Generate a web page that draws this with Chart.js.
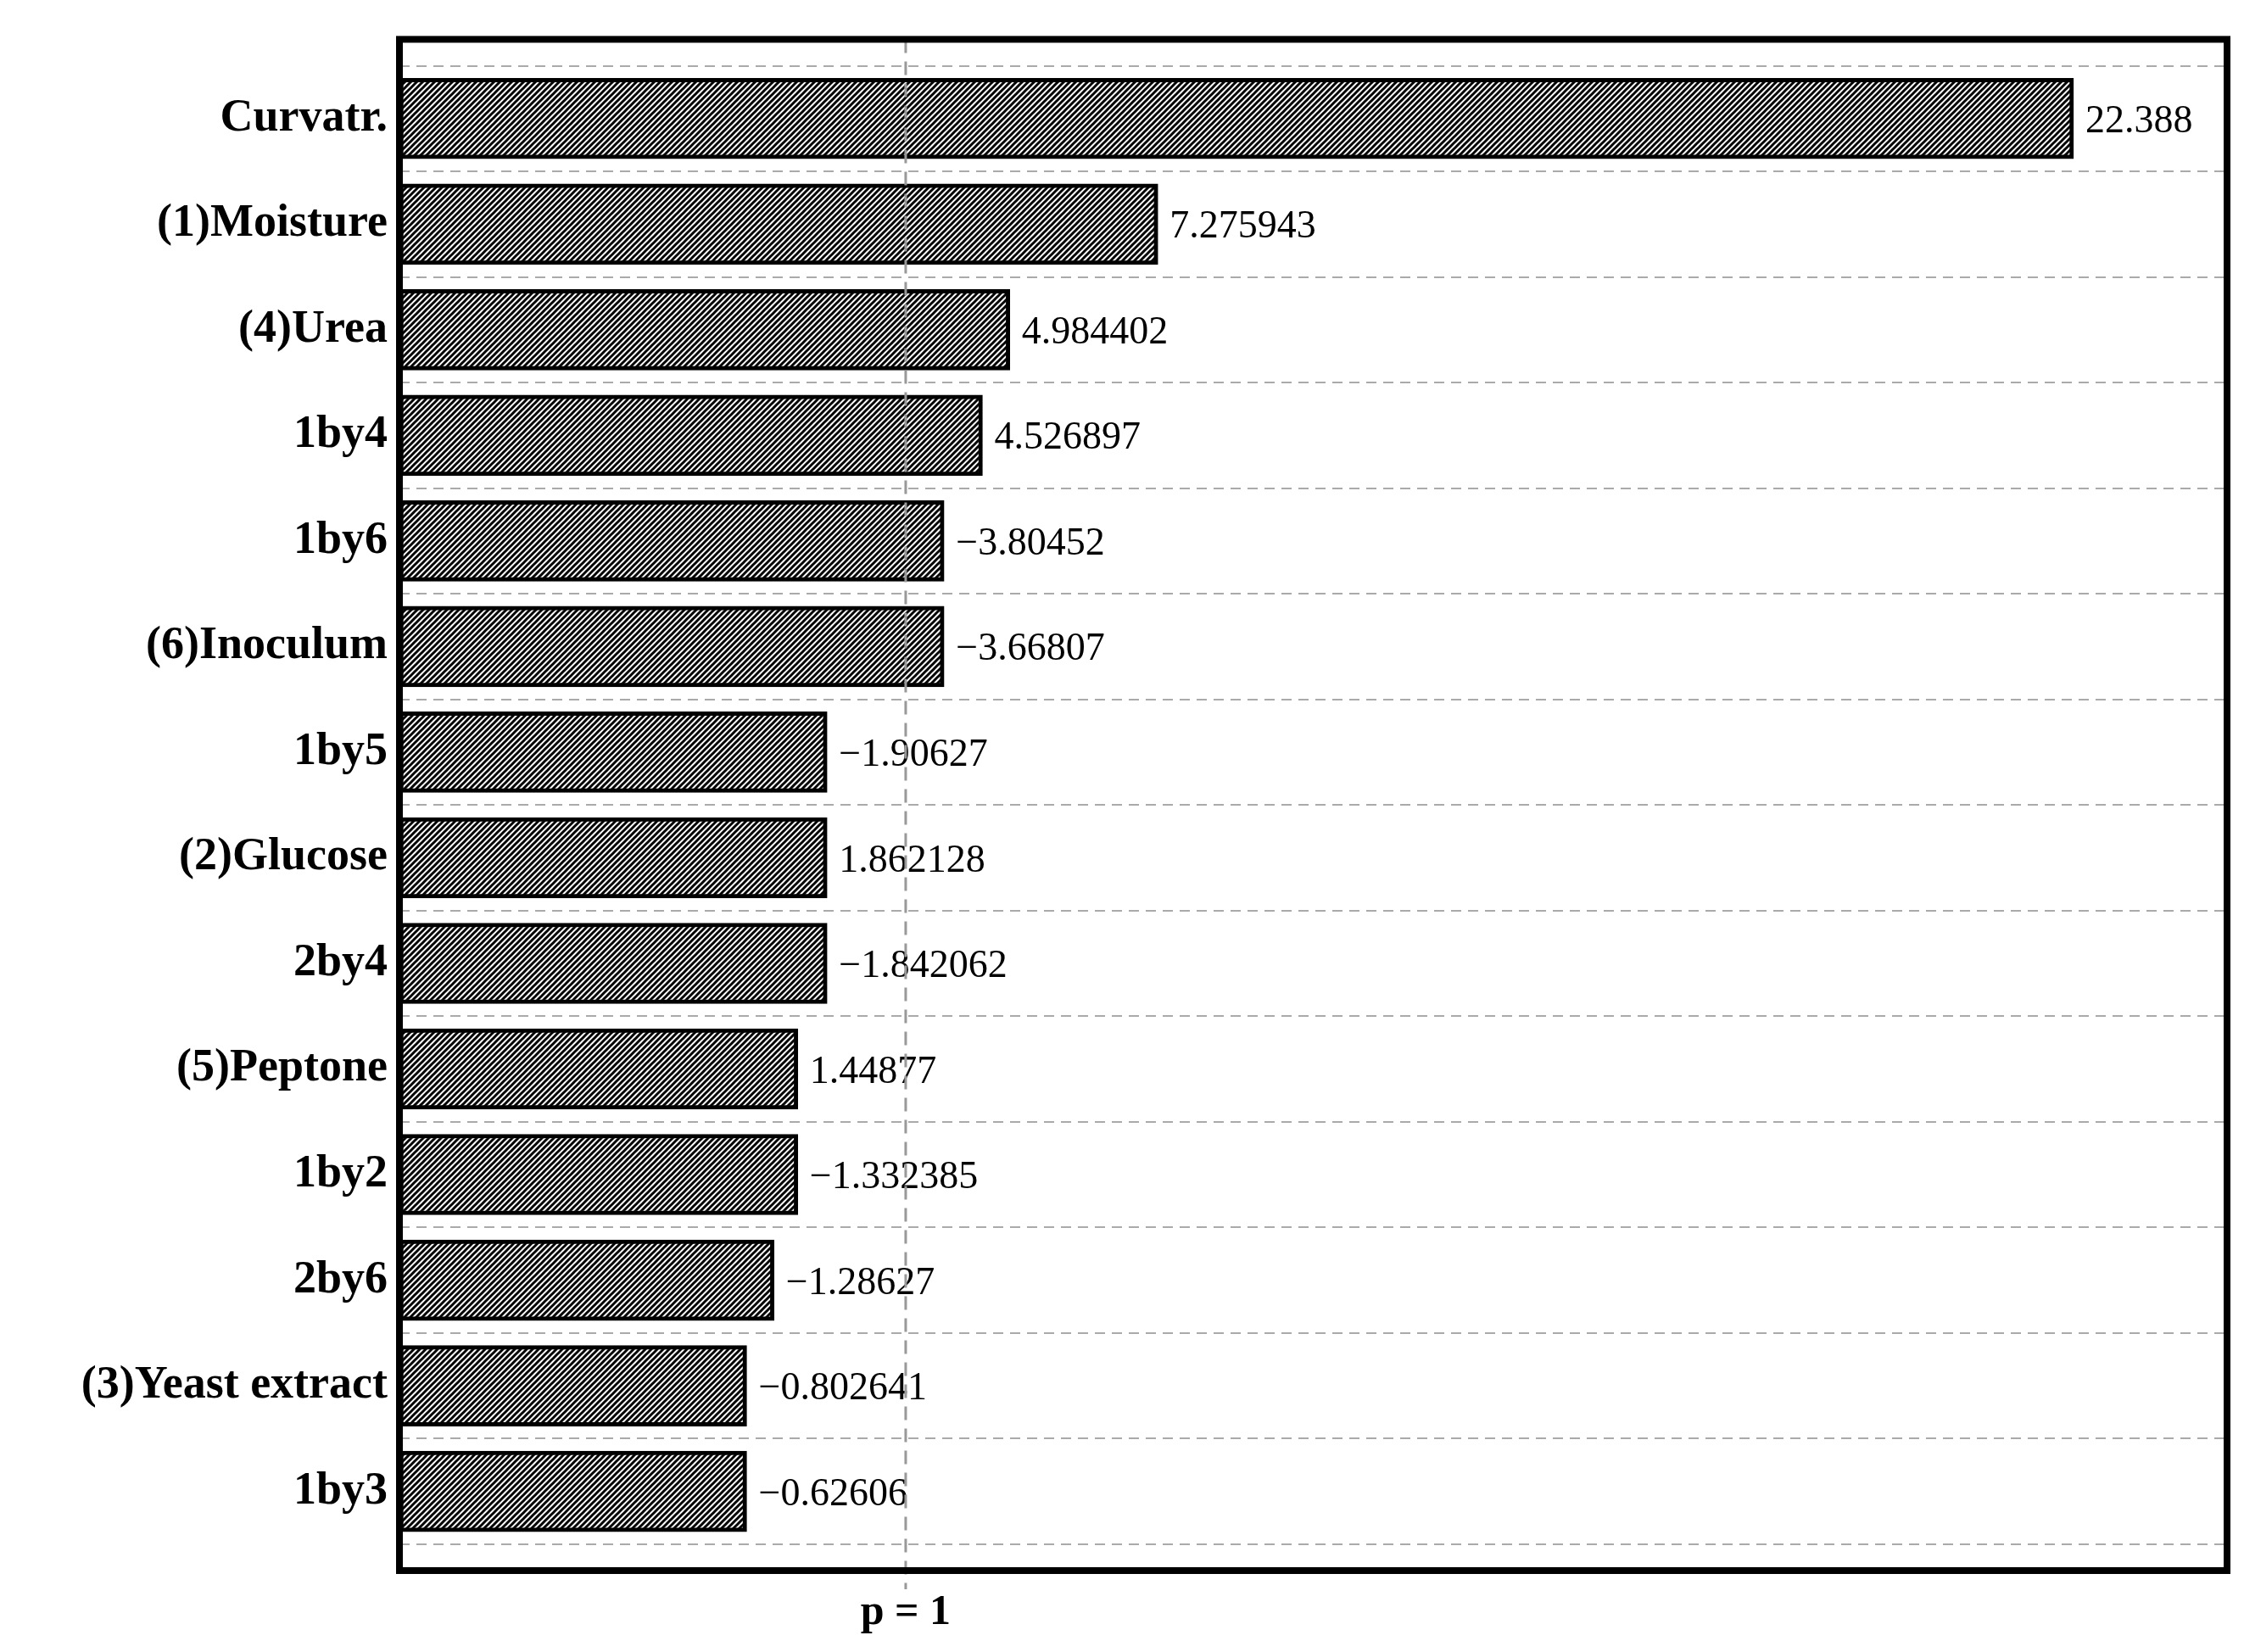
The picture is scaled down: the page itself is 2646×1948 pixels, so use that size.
<!DOCTYPE html>
<html>
<head>
<meta charset="utf-8">
<script src="https://cdn.jsdelivr.net/npm/chart.js@4"></script>
<style>body{margin:0;background:#fff}</style>
</head>
<body>
<canvas id="c" width="2646" height="1948"></canvas>
<script>
const categories = ["Curvatr.", "(1)Moisture", "(4)Urea", "1by4", "1by6", "(6)Inoculum", "1by5",
  "(2)Glucose", "2by4", "(5)Peptone", "1by2", "2by6", "(3)Yeast extract", "1by3"];
// bar lengths as drawn in the figure (not to scale of the printed values)
const barLengths = [91.6, 41.5, 33.4, 31.9, 29.8, 29.8, 23.4, 23.4, 23.4, 21.8, 21.8, 20.5, 19.0, 19.0];
const valueLabels = ["22.388", "7.275943", "4.984402", "4.526897", "\u22123.80452", "\u22123.66807", "\u22121.90627",
  "1.862128", "\u22121.842062", "1.44877", "\u22121.332385", "\u22121.28627", "\u22120.802641", "\u22120.62606"];
const pLine = 27.7;
const pLabel = "p = 1";

// hatch fill
const pc = document.createElement("canvas");
pc.width = 7; pc.height = 7;
const px = pc.getContext("2d");
px.fillStyle = "#fff"; px.fillRect(0, 0, 7, 7);
px.strokeStyle = "#000"; px.lineWidth = 3;
px.beginPath();
px.moveTo(-2, 9); px.lineTo(9, -2);
px.moveTo(-5.5, 5.5); px.lineTo(5.5, -5.5);
px.moveTo(1.5, 12.5); px.lineTo(12.5, 1.5);
px.stroke();
const ctx = document.getElementById("c").getContext("2d");
const hatch = ctx.createPattern(pc, "repeat");

const extras = {
  id: "extras",
  afterDatasetsDraw(chart) {
    const c = chart.ctx, a = chart.chartArea, xs = chart.scales.x, ys = chart.scales.y;
    c.save();
    // value labels
    c.font = "46px 'Liberation Serif'";
    c.fillStyle = "#000";
    c.textBaseline = "middle";
    c.textAlign = "left";
    barLengths.forEach((v, i) => {
      c.fillText(valueLabels[i], xs.getPixelForValue(v) + 14, ys.getPixelForValue(i) + 4);
    });
    // p = 1 line
    const x = xs.getPixelForValue(pLine);
    c.strokeStyle = "#999";
    c.lineWidth = 3;
    c.setLineDash([16, 10]);
    c.beginPath(); c.moveTo(x, a.top); c.lineTo(x, a.bottom + 22); c.stroke();
    c.setLineDash([]);
    c.font = "bold 50px 'Liberation Serif'";
    c.textAlign = "center";
    c.fillText(pLabel, x, a.bottom + 50);
    // frame
    c.strokeStyle = "#000";
    c.lineWidth = 8;
    c.strokeRect(a.left, a.top, a.right - a.left, a.bottom - a.top);
    c.restore();
  }
};

new Chart(ctx, {
  type: "bar",
  data: {
    datasets: [{
      data: barLengths.map((v, i) => ({ x: v, y: i })),
      backgroundColor: hatch,
      borderColor: "#000",
      borderWidth: 5,
      borderSkipped: false,
      barThickness: 95
    }]
  },
  options: {
    indexAxis: "y",
    responsive: false,
    animation: false,
    layout: { padding: { top: 34, right: 20, bottom: 96, left: 0 } },
    plugins: { legend: { display: false }, tooltip: { enabled: false } },
    scales: {
      x: { type: "linear", min: 0, max: 100, display: false },
      y: {
        type: "linear",
        reverse: true,
        offset: false,
        min: -0.75,
        max: 13.75,
        afterBuildTicks(s) { s.ticks = categories.map((_, i) => ({ value: i })); },
        afterFit(s) { s.width = 471; },
        border: { display: false, dash: [12, 8] },
        grid: { color: "#aaa", lineWidth: 2, drawTicks: false },
        ticks: {
          padding: 14,
          color: "#000",
          font: { family: "'Liberation Serif'", weight: "bold", size: 54 },
          callback: v => categories[v]
        }
      }
    }
  },
  plugins: [extras]
});
</script>
</body>
</html>
